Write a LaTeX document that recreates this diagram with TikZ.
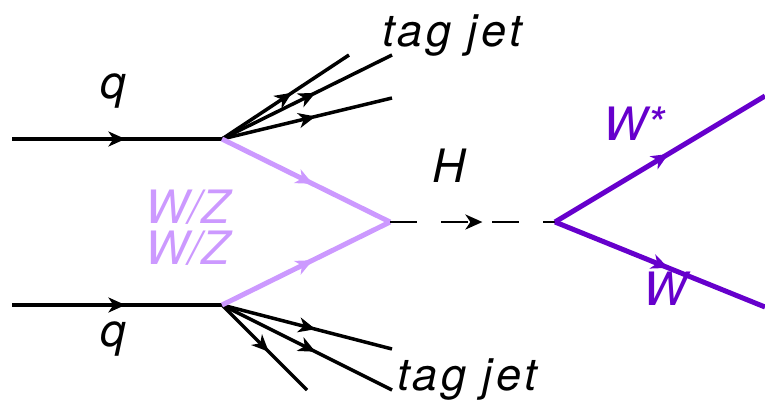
\documentclass[tikz,border=0pt]{standalone}
\usepackage{fontspec}
\setmainfont{TeX Gyre Heros}
\usetikzlibrary{arrows.meta,decorations.markings}
\definecolor{lightpurple}{HTML}{CC99FF}
\definecolor{darkpurple}{HTML}{6600CC}
\tikzset{
  midarrow/.style={postaction={decorate},decoration={markings,
    mark=at position #1 with {\arrow{Stealth[length=17pt,width=15pt,inset=5pt]}}}},
  quark/.style={draw=black,line width=4.5pt,midarrow=0.54},
  jet/.style={draw=black,line width=3.5pt,midarrow=0.55},
  boson/.style={draw=lightpurple,line width=5pt,midarrow=0.54},
  higgs/.style={draw=black,line width=2.5pt,dash pattern=on 27pt off 24pt,midarrow=0.56},
  wboson/.style={draw=darkpurple,line width=5pt,midarrow=0.54},
  lbl/.style={inner sep=0pt,anchor=base west,font=\fontsize{46}{41}\selectfont\itshape},
  jetlbl/.style={lbl,font=\fontsize{45}{45}\selectfont\itshape\addfontfeature{LetterSpace=8}},
}
\begin{document}
\begin{tikzpicture}[x=1pt,y=-1pt]
\useasboundingbox (0,0) rectangle (765,400);
% coordinates
\coordinate (qin1) at (12,139);
\coordinate (qin2) at (12,305);
\coordinate (v1) at (222,139);
\coordinate (v2) at (222,305);
\coordinate (vh) at (390,222);
\coordinate (vw) at (555,222);
\coordinate (wend1) at (765,96);
\coordinate (wend2) at (765,307);
\coordinate (j1a) at (349,55);
\coordinate (j1b) at (392,55);
\coordinate (j1c) at (392,98);
\coordinate (j2a) at (392,349);
\coordinate (j2b) at (392,390);
\coordinate (j2c) at (307,390);
% quarks
\draw[quark] (qin1) -- (v1);
\draw[quark] (qin2) -- (v2);
% jets
\draw[jet] (v1) -- (j1a);
\draw[jet] (v1) -- (j1b);
\draw[jet] (v1) -- (j1c);
\draw[jet] (v2) -- (j2a);
\draw[jet] (v2) -- (j2b);
\draw[jet] (v2) -- (j2c);
% vector bosons
\draw[boson] (v1) -- (vh);
\draw[boson] (v2) -- (vh);
% higgs
\draw[higgs] (vh) -- (vw);
% W decays
\draw[wboson] (vw) -- (wend1);
\draw[wboson] (vw) -- (wend2);
% labels
\node[lbl] (lq1) at (100,98) {q};
\node[lbl] (lq2) at (100,346) {q};
\node[jetlbl] (ltag1) at (382,46) {tag jet};
\node[jetlbl] (ltag2) at (397,390) {tag jet};
\node[lbl] (lh) at (432,182) {H};
\node[lbl,text=lightpurple,align=left] (lwz) at (145,264) {W/Z\\W/Z};
\node[lbl,text=darkpurple] (lws) at (603,140) {W*};
\node[lbl,text=darkpurple] (lw) at (643,305) {W};
\end{tikzpicture}
\end{document}
